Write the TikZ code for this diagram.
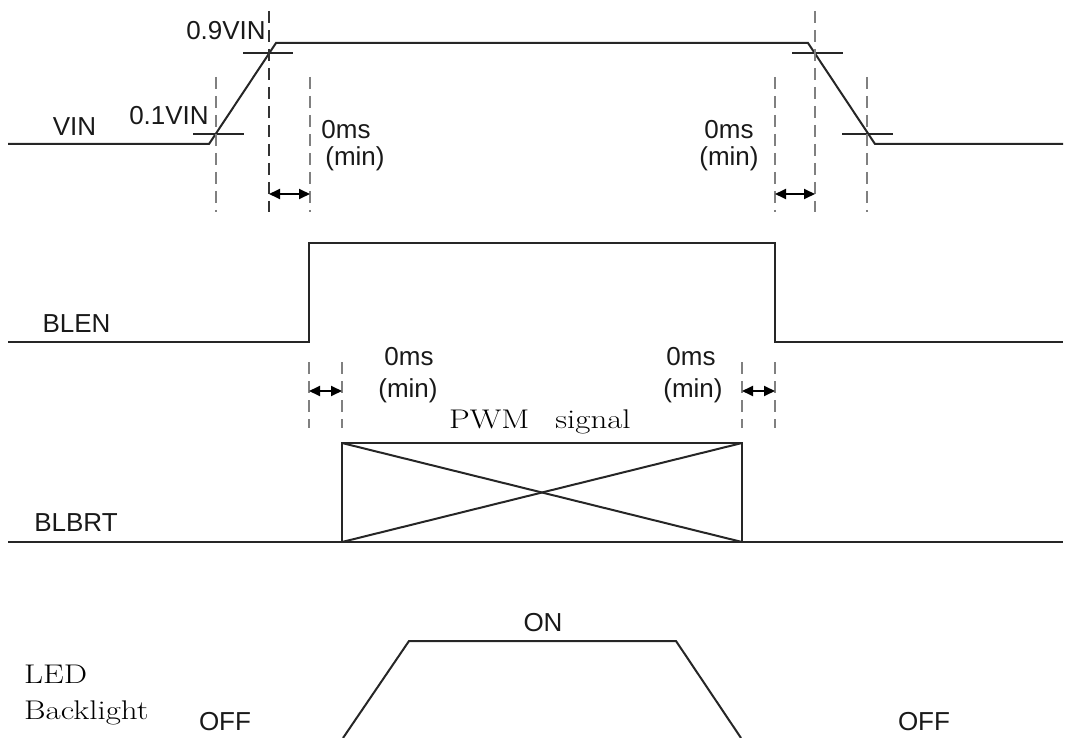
\documentclass[tikz,border=0pt]{standalone}
\usepackage{fontspec}
\setsansfont{Liberation Sans}
\usetikzlibrary{arrows.meta}
\newcommand{\widerm}[1]{\scalebox{1.22}[1]{#1}}
\begin{document}
\begin{tikzpicture}[x=1pt,y=-1pt,
  sig/.style={line width=2pt, black!85, line join=miter},
  guide/.style={line width=2pt, black!50, dash pattern=on 12pt off 7pt},
  guidedark/.style={line width=2pt, black!80, dash pattern=on 12pt off 7pt},
  tickmark/.style={line width=1.6pt, black!85},
  dim/.style={line width=1.8pt, black, {Triangle[length=11pt,width=10pt]}-{Triangle[length=11pt,width=10pt]}},
  lbl/.style={font=\sffamily\fontsize{26}{30}\selectfont, inner sep=0pt, text=black!90},
  slbl/.style={font=\rmfamily\fontsize{27}{32}\selectfont, inner sep=0pt}]
\useasboundingbox (0,0) rectangle (1065,738);

% ---------- VIN ----------
\draw[sig] (8,144) -- (209,144) -- (276,43) -- (808,43) -- (875,144) -- (1063,144);
\draw[tickmark] (193,134) -- (244,134);
\draw[tickmark] (243,53) -- (293,53);
\draw[tickmark] (792,53) -- (843,53);
\draw[tickmark] (842,134) -- (893,134);
\draw[guide] (216,77) -- (216,212);
\draw[guidedark] (269,11) -- (269,212);
\draw[guide] (310,77) -- (310,212);
\draw[guide] (775,77) -- (775,212);
\draw[guide] (815,11) -- (815,212);
\draw[guide] (867,77) -- (867,212);
\coordinate (a1) at (269,194); \coordinate (a2) at (310,194);
\coordinate (a3) at (775,194); \coordinate (a4) at (815,194);
\draw[dim] (a1) -- (a2);
\draw[dim] (a3) -- (a4);
\node[lbl] (vin) at (74.5,127) {VIN};
\node[lbl] (v01) at (169,116) {0.1VIN};
\node[lbl] (v09) at (226,31) {0.9VIN};
\node[lbl] (t1a) at (346,130) {0ms};
\node[lbl] (t1b) at (355,159) {(min)};
\node[lbl] (t2a) at (729,130) {0ms};
\node[lbl] (t2b) at (729,159) {(min)};

% ---------- BLEN ----------
\draw[sig] (8,342) -- (309,342) -- (309,243) -- (775,243) -- (775,342) -- (1063,342);
\node[lbl] (blen) at (76.5,323.5) {BLEN};
\draw[guide] (309,362) -- (309,428);
\draw[guide] (342,362) -- (342,428);
\draw[guide] (742,362) -- (742,428);
\draw[guide] (775,362) -- (775,428);
\coordinate (b1) at (309,391); \coordinate (b2) at (342,391);
\coordinate (b3) at (742,391); \coordinate (b4) at (775,391);
\draw[dim] (b1) -- (b2);
\draw[dim] (b3) -- (b4);
\node[lbl] (t3a) at (409,357) {0ms};
\node[lbl] (t3b) at (408,391) {(min)};
\node[lbl] (t4a) at (691,357) {0ms};
\node[lbl] (t4b) at (693,391) {(min)};

% ---------- BLBRT ----------
\draw[sig] (8,542) -- (1063,542);
\draw[sig] (342,443) rectangle (742,542);
\draw[sig] (342,443) -- (742,542);
\draw[sig] (342,542) -- (742,443);
\node[lbl] (blbrt) at (76,522.5) {BLBRT};
\node[slbl, anchor=base west] (pwm) at (449,428) {\widerm{PWM}\hspace{26pt}\widerm{signal}};

% ---------- LED Backlight ----------
\draw[sig] (343,738) -- (409,641) -- (676,641) -- (741,738);
\node[lbl] (on) at (543,623) {ON};
\node[lbl] (off1) at (225,722) {OFF};
\node[lbl] (off2) at (924,722) {OFF};
\node[slbl, anchor=base west] (led) at (24,683) {\widerm{LED}};
\node[slbl, anchor=base west] (bl) at (24,719) {\widerm{Backlight}};
\end{tikzpicture}
\end{document}
